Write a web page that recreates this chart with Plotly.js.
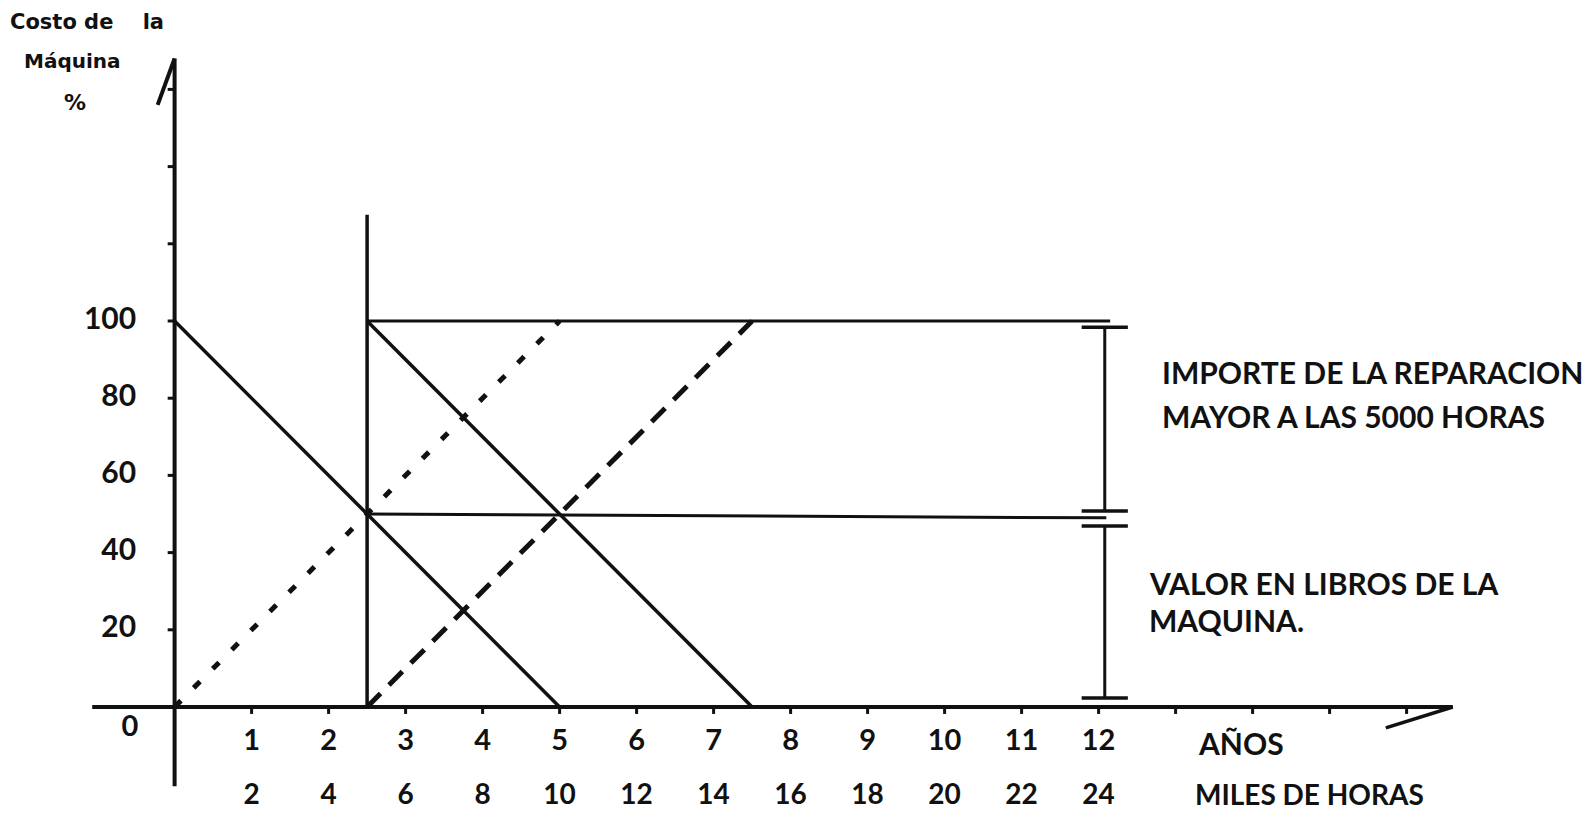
<!DOCTYPE html>
<html>
<head>
<meta charset="utf-8">
<script src="https://cdn.plot.ly/plotly-3.0.1.min.js"></script>
<style>html,body{margin:0;padding:0;background:#fff;}#chart{width:1592px;height:814px;}</style>
</head>
<body>
<div id="chart"></div>
<script>
// ---- data (years on x, % of machine cost on y) ----
const yearTicks = [1,2,3,4,5,6,7,8,9,10,11,12];
const hourTicks = ['2','4','6','8','10','12','14','16','18','20','22','24'];
const axisTickYears = [1,2,3,4,5,6,7,8,9,10,11,12,13,14,15,16];
const pctTicks = [20,40,60,80,100];
const pctMinorTicks = [20,40,60,80,100,120,140,160];

// book value of first machine (straight-line depreciation over 5 years)
const libros1X = [0,5];
const libros1Y = [100,0];
// book value after the major repair at 2.5 years
const libros2X = [2.5,7.5];
const libros2Y = [100,0];
// accumulated depreciation, dotted
const acum1X = [0,5];
const acum1Y = [0,100];
// accumulated depreciation after repair, dashed
const acum2X = [2.5,7.5];
const acum2Y = [0,100];
// horizontal reference lines
const linea100X = [2.5,12.15];
const linea100Y = [100,100];
const linea50X = [2.5,12.1];
const linea50Y = [50,49];
// vertical at repair moment
const reparX = [2.5,2.5];
const reparY = [0,127.5];
// brackets
const bracketX = 12.08;
const bracketSup = [98.4,50.8];
const bracketInf = [46.9,2.3];

// ---- scale (pixel mapping) ----
const X0PX = 174.6, PXX = 77.0, Y0PX = 707, PXY = 3.86, W = 1592, H = 814;
const xr = [-X0PX/PXX, (W-X0PX)/PXX];
const yr = [(Y0PX-H)/PXY, Y0PX/PXY];

const INK = '#111';
const FONT = 'Lato, "Open Sans", sans-serif';
const TFONT = '"DejaVu Sans", Lato, sans-serif';

function line(x, y, width, dash) {
  return {x:x, y:y, type:'scatter', mode:'lines', hoverinfo:'skip',
          line:{color:INK, width:width, dash:dash||'solid'}, cliponaxis:false};
}

const traces = [];
// axes (hand-drawn)
traces.push(line([-1.07,16.6],[0,0],4));
traces.push(line([15.73,16.6],[-5.4,0],3.5));
traces.push(line([0,0],[-20.5,168],4));
traces.push(line([-0.22,0],[156,168],4));
// tick marks
axisTickYears.forEach(t => traces.push(line([t,t],[0,-1.8],3)));
pctMinorTicks.forEach(t => traces.push(line([0,-0.09],[t,t],3)));

// main lines
traces.push(line(libros1X, libros1Y, 3.5));
traces.push(line(libros2X, libros2Y, 3.5));
traces.push(line(acum1X, acum1Y, 5, '9px,18px'));
traces.push(line(acum2X, acum2Y, 5, '19px,12px'));
traces.push(line(linea100X, linea100Y, 3));
traces.push(line(linea50X, linea50Y, 3));
traces.push(line(reparX, reparY, 3.5));

// brackets
traces.push(line([bracketX,bracketX], bracketSup, 3));
traces.push(line([bracketX,bracketX], bracketInf, 3));
[bracketSup[0], bracketSup[1], bracketInf[0], bracketInf[1]].forEach(v =>
  traces.push(line([bracketX-0.3, bracketX+0.3],[v,v],3.5)));

// tick labels
traces.push({x: pctTicks.map(()=>-0.5), y: pctTicks, text: pctTicks.map(String),
  type:'scatter', mode:'text', textposition:'middle left', hoverinfo:'skip', cliponaxis:false,
  textfont:{family:FONT, size:30, color:INK, weight:700}});
traces.push({x:[-0.58], y:[-5.7], text:['0'], type:'scatter', mode:'text', textposition:'middle center',
  hoverinfo:'skip', cliponaxis:false, textfont:{family:FONT, size:29, color:INK, weight:700}});
traces.push({x: yearTicks, y: yearTicks.map(()=>-9.3), text: yearTicks.map(String),
  type:'scatter', mode:'text', textposition:'middle center', hoverinfo:'skip', cliponaxis:false,
  textfont:{family:FONT, size:29, color:INK, weight:700}});
traces.push({x: yearTicks, y: yearTicks.map(()=>-23.2), text: hourTicks,
  type:'scatter', mode:'text', textposition:'middle center', hoverinfo:'skip', cliponaxis:false,
  textfont:{family:FONT, size:28, color:INK, weight:700}});

function note(x, y, text, size, xanchor, weight, family) {
  return {x:x, y:y, xref:'x', yref:'y', text:text, showarrow:false, xanchor:xanchor||'left',
          yanchor:'middle', font:{family:family||FONT, size:size, color:INK, weight:weight||400}};
}

const annotations = [
  note(12.8, 86.8, 'IMPORTE DE LA REPARACION', 30, 'left', 700),
  note(12.8, 75.4, 'MAYOR A LAS 5000 HORAS', 30, 'left', 700),
  note(12.63, 32.2, 'VALOR EN LIBROS DE LA', 30, 'left', 700),
  note(12.63, 22.6, 'MAQUINA.', 30, 'left', 700),
  note(13.26, -9.3, 'AÑOS', 30, 'left', 700),
  note(13.23, -22.6, 'MILES DE HORAS', 28, 'left', 700),
  note(-2.16, 177.5, 'Costo de\u00a0\u00a0\u00a0\u00a0la', 21, 'left', 700, TFONT),
  note(-1.98, 167.4, 'Máquina', 20, 'left', 700, TFONT),
  note(-1.29, 156.7, '%', 22, 'center', 700, TFONT)
];

const layout = {
  width: W, height: H,
  margin:{l:0,r:0,t:0,b:0,pad:0},
  paper_bgcolor:'#fff', plot_bgcolor:'#fff',
  showlegend:false, hovermode:false,
  xaxis:{range:xr, visible:false, fixedrange:true},
  yaxis:{range:yr, visible:false, fixedrange:true},
  annotations: annotations
};

Plotly.newPlot('chart', traces, layout, {displayModeBar:false, staticPlot:true});
</script>
</body>
</html>
